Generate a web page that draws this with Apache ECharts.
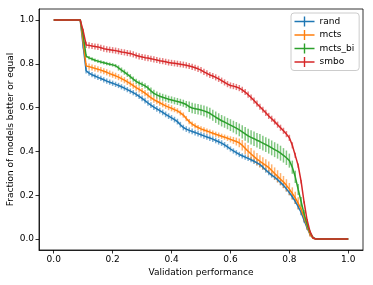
<!DOCTYPE html>
<html>
<head>
<meta charset="utf-8">
<script src="https://cdn.jsdelivr.net/npm/echarts@6/dist/echarts.min.js"></script>
<style>
html,body{margin:0;padding:0;background:#fff;}
#c{width:373px;height:285px;}
</style>
</head>
<body>
<div id="c"></div>
<script>
// x positions (validation performance)
var xs = [0,0.01,0.02,0.03,0.04,0.05,0.06,0.07,0.08,0.09,
0.10,0.11,0.12,0.13,0.14,0.15,0.16,0.17,0.18,0.19,
0.20,0.21,0.22,0.23,0.24,0.25,0.26,0.27,0.28,0.29,
0.30,0.31,0.32,0.33,0.34,0.35,0.36,0.37,0.38,0.39,
0.40,0.41,0.42,0.43,0.44,0.45,0.46,0.47,0.48,0.49,
0.50,0.51,0.52,0.53,0.54,0.55,0.56,0.57,0.58,0.59,
0.60,0.61,0.62,0.63,0.64,0.65,0.66,0.67,0.68,0.69,
0.70,0.71,0.72,0.73,0.74,0.75,0.76,0.77,0.78,0.79,
0.80,0.81,0.82,0.83,0.84,0.85,0.86,0.87,0.88,0.89,
0.90,0.91,0.92,0.93,0.94,0.95,0.96,0.97,0.98,0.99,1.00];

var seriesNames = ['rand','mcts','mcts_bi','smbo'];
var seriesColors = ['#1f77b4','#ff7f0e','#2ca02c','#d62728'];
var xTicks = [0,0.2,0.4,0.6,0.8,1.0];
var yTicks = [0,0.2,0.4,0.6,0.8,1.0];

var rand = [1,1,1,1,1,1,1,1,1,1,
0.88,0.768,0.757,0.750,0.744,0.738,0.733,0.727,0.721,0.716,
0.711,0.706,0.701,0.695,0.689,0.682,0.675,0.668,0.660,0.651,
0.642,0.632,0.621,0.611,0.602,0.594,0.586,0.578,0.569,0.561,
0.553,0.545,0.536,0.522,0.509,0.502,0.496,0.491,0.486,0.481,
0.476,0.471,0.466,0.461,0.456,0.450,0.444,0.438,0.430,0.421,
0.411,0.402,0.394,0.386,0.380,0.374,0.368,0.362,0.355,0.348,
0.340,0.328,0.315,0.303,0.292,0.282,0.271,0.258,0.245,0.229,
0.212,0.193,0.172,0.148,0.121,0.086,0.052,0.022,0.005,0,
0,0,0,0,0,0,0,0,0,0,0];
var randErr = [0,0,0,0,0,0,0,0,0,0,
0.01,0.012,0.012,0.012,0.012,0.012,0.012,0.012,0.012,0.012,
0.012,0.012,0.012,0.012,0.012,0.012,0.012,0.012,0.012,0.012,
0.013,0.013,0.013,0.013,0.013,0.013,0.013,0.013,0.013,0.013,
0.013,0.013,0.013,0.013,0.013,0.013,0.013,0.013,0.013,0.013,
0.013,0.013,0.013,0.013,0.013,0.013,0.013,0.013,0.013,0.013,
0.012,0.012,0.012,0.012,0.012,0.012,0.012,0.012,0.012,0.012,
0.012,0.012,0.012,0.012,0.012,0.012,0.012,0.012,0.012,0.012,
0.012,0.012,0.012,0.012,0.012,0.012,0.01,0.008,0.004,0,
0,0,0,0,0,0,0,0,0,0,0];

var mcts = [1,1,1,1,1,1,1,1,1,1,
0.90,0.790,0.787,0.783,0.779,0.775,0.771,0.766,0.761,0.755,
0.750,0.745,0.739,0.732,0.725,0.717,0.709,0.700,0.691,0.683,
0.675,0.666,0.656,0.645,0.636,0.629,0.622,0.615,0.608,0.602,
0.597,0.591,0.585,0.576,0.566,0.550,0.536,0.525,0.516,0.509,
0.503,0.498,0.493,0.488,0.483,0.478,0.474,0.469,0.465,0.460,
0.455,0.450,0.445,0.439,0.428,0.414,0.401,0.388,0.376,0.365,
0.355,0.345,0.336,0.326,0.313,0.299,0.286,0.273,0.260,0.245,
0.228,0.208,0.188,0.163,0.136,0.100,0.060,0.022,0.004,0,
0,0,0,0,0,0,0,0,0,0,0];
var mctsErr = [0,0,0,0,0,0,0,0,0,0,
0.01,0.014,0.014,0.014,0.014,0.014,0.014,0.014,0.014,0.014,
0.014,0.014,0.014,0.014,0.014,0.014,0.014,0.014,0.014,0.014,
0.014,0.014,0.014,0.014,0.014,0.014,0.014,0.014,0.014,0.014,
0.014,0.012,0.012,0.012,0.012,0.012,0.012,0.012,0.012,0.012,
0.012,0.012,0.012,0.012,0.012,0.012,0.012,0.012,0.012,0.012,
0.014,0.016,0.018,0.020,0.024,0.026,0.028,0.028,0.028,0.028,
0.028,0.028,0.028,0.028,0.028,0.028,0.028,0.028,0.028,0.028,
0.028,0.028,0.028,0.028,0.026,0.022,0.018,0.012,0.004,0,
0,0,0,0,0,0,0,0,0,0,0];

var mctsBi = [1,1,1,1,1,1,1,1,1,1,
0.93,0.835,0.827,0.822,0.816,0.812,0.808,0.805,0.801,0.798,
0.795,0.791,0.781,0.771,0.762,0.752,0.741,0.730,0.720,0.712,
0.706,0.699,0.690,0.676,0.665,0.658,0.652,0.647,0.643,0.638,
0.635,0.631,0.628,0.624,0.620,0.614,0.604,0.598,0.595,0.592,
0.589,0.585,0.580,0.574,0.565,0.556,0.548,0.540,0.534,0.527,
0.520,0.513,0.506,0.498,0.489,0.480,0.471,0.464,0.458,0.451,
0.445,0.438,0.431,0.424,0.416,0.408,0.401,0.392,0.382,0.371,
0.358,0.328,0.284,0.226,0.170,0.115,0.068,0.030,0.008,0,
0,0,0,0,0,0,0,0,0,0,0];
var mctsBiErr = [0,0,0,0,0,0,0,0,0,0,
0.01,0.008,0.008,0.008,0.008,0.008,0.008,0.008,0.008,0.008,
0.008,0.008,0.012,0.012,0.012,0.012,0.012,0.012,0.012,0.012,
0.012,0.012,0.012,0.016,0.016,0.016,0.016,0.016,0.016,0.016,
0.016,0.016,0.016,0.016,0.016,0.016,0.024,0.024,0.024,0.024,
0.024,0.024,0.025,0.025,0.025,0.026,0.026,0.026,0.026,0.026,
0.027,0.027,0.028,0.029,0.030,0.031,0.032,0.033,0.033,0.033,
0.034,0.034,0.034,0.034,0.034,0.034,0.034,0.034,0.033,0.033,
0.032,0.030,0.028,0.025,0.022,0.018,0.014,0.010,0.004,0,
0,0,0,0,0,0,0,0,0,0,0];

var smbo = [1,1,1,1,1,1,1,1,1,1,
0.95,0.886,0.884,0.881,0.879,0.877,0.873,0.869,0.866,0.864,
0.862,0.860,0.857,0.854,0.852,0.849,0.847,0.843,0.838,0.834,
0.831,0.828,0.826,0.823,0.820,0.817,0.814,0.812,0.809,0.806,
0.804,0.802,0.800,0.798,0.796,0.793,0.790,0.786,0.782,0.777,
0.771,0.763,0.756,0.749,0.744,0.738,0.731,0.723,0.715,0.707,
0.701,0.698,0.694,0.689,0.681,0.671,0.659,0.646,0.632,0.618,
0.604,0.590,0.576,0.562,0.549,0.536,0.522,0.508,0.494,0.479,
0.462,0.428,0.382,0.335,0.262,0.168,0.088,0.035,0.006,0,
0,0,0,0,0,0,0,0,0,0,0];
var smboErr = [0,0,0,0,0,0,0,0,0,0,
0.01,0.014,0.014,0.014,0.014,0.014,0.014,0.014,0.014,0.014,
0.014,0.014,0.014,0.014,0.014,0.014,0.014,0.014,0.014,0.014,
0.014,0.014,0.014,0.014,0.014,0.014,0.014,0.014,0.014,0.014,
0.014,0.014,0.014,0.014,0.014,0.014,0.014,0.014,0.014,0.014,
0.014,0.014,0.014,0.014,0.014,0.014,0.014,0.014,0.014,0.014,
0.014,0.014,0.014,0.014,0.014,0.014,0.014,0.014,0.014,0.014,
0.014,0.014,0.014,0.014,0.014,0.014,0.014,0.014,0.014,0.014,
0.014,0.014,0.012,0.010,0.008,0.006,0.004,0.002,0,0,
0,0,0,0,0,0,0,0,0,0,0];

var allVals = [rand, mcts, mctsBi, smbo];
var allErrs = [randErr, mctsErr, mctsBiErr, smboErr];

var font = 'DejaVu Sans';
var series = [];
seriesNames.forEach(function(name, k){
  var vals = allVals[k], errs = allErrs[k], col = seriesColors[k];
  series.push({
    type: 'custom',
    name: name + '_err',
    silent: true,
    data: xs.map(function(x,i){ return [x, vals[i], errs[i]]; }),
    renderItem: function(params, api){
      var x = api.value(0), y = api.value(1), e = api.value(2);
      if (!(e > 0)) return null;
      var p1 = api.coord([x, y - e]);
      var p2 = api.coord([x, y + e]);
      return {type:'line', shape:{x1:p1[0], y1:p1[1], x2:p2[0], y2:p2[1]},
        style:{stroke: col, lineWidth: 1.5, opacity: 0.6}};
    },
    clip: false
  });
  series.push({
    type: 'line',
    name: name,
    data: xs.map(function(x,i){ return [x, vals[i]]; }),
    showSymbol: false,
    symbol: 'none',
    clip: false,
    lineStyle: {color: col, width: 1.5},
    itemStyle: {color: col},
    emphasis: {disabled: true}
  });
});

var icon = 'path://M0,4.3L20,4.3L20,5.7L0,5.7Z M9.3,0L10.7,0L10.7,10L9.3,10Z';

var chart = echarts.init(document.getElementById('c'), null, {renderer:'canvas'});
chart.setOption({
  animation: false,
  backgroundColor: '#fff',
  textStyle: {fontFamily: font},
  grid: {left: 39, right: 10, top: 9, bottom: 35, outerBoundsMode: 'none', containLabel: false,
    show: true, borderColor: '#000', borderWidth: 0.8, backgroundColor: 'transparent'},
  legend: {
    orient: 'vertical', left: 291, top: 13,
    padding: [3.5, 5, 3.5, 3.5], itemGap: 3.5,
    itemWidth: 20, itemHeight: 10,
    borderColor: '#ccc', borderWidth: 1, borderRadius: 3,
    backgroundColor: 'rgba(255,255,255,0.8)',
    textStyle: {fontSize: 9, color: '#000', fontFamily: font},
    data: seriesNames.map(function(n, k){ return {name: n, icon: icon, itemStyle:{color: seriesColors[k]}}; })
  },
  xAxis: {
    type: 'value', min: -0.05, max: 1.05,
    name: 'Validation performance', nameLocation: 'middle', nameGap: 18, nameMoveOverlap: false,
    nameTextStyle: {fontSize: 9, color: '#000', fontFamily: font},
    axisLine: {show: true, onZero: false, lineStyle: {color: '#000', width: 0.8}},
    axisTick: {show: true, length: 3.5, customValues: xTicks, lineStyle: {color: '#000', width: 0.8}},
    axisLabel: {customValues: xTicks, fontSize: 9, color: '#000', margin: 5, fontFamily: font,
      formatter: function(v){ return v.toFixed(1); }},
    splitLine: {show: false}
  },
  yAxis: {
    type: 'value', min: -0.05, max: 1.05,
    name: 'Fraction of models better or equal', nameLocation: 'middle', nameGap: 24, nameMoveOverlap: false,
    nameTextStyle: {fontSize: 9, color: '#000', fontFamily: font},
    axisLine: {show: true, onZero: false, lineStyle: {color: '#000', width: 0.8}},
    axisTick: {show: true, length: 3.5, customValues: yTicks, lineStyle: {color: '#000', width: 0.8}},
    axisLabel: {customValues: yTicks, fontSize: 9, color: '#000', margin: 5, fontFamily: font,
      formatter: function(v){ return v.toFixed(1); }},
    splitLine: {show: false}
  },
  series: series
});
</script>
</body>
</html>
